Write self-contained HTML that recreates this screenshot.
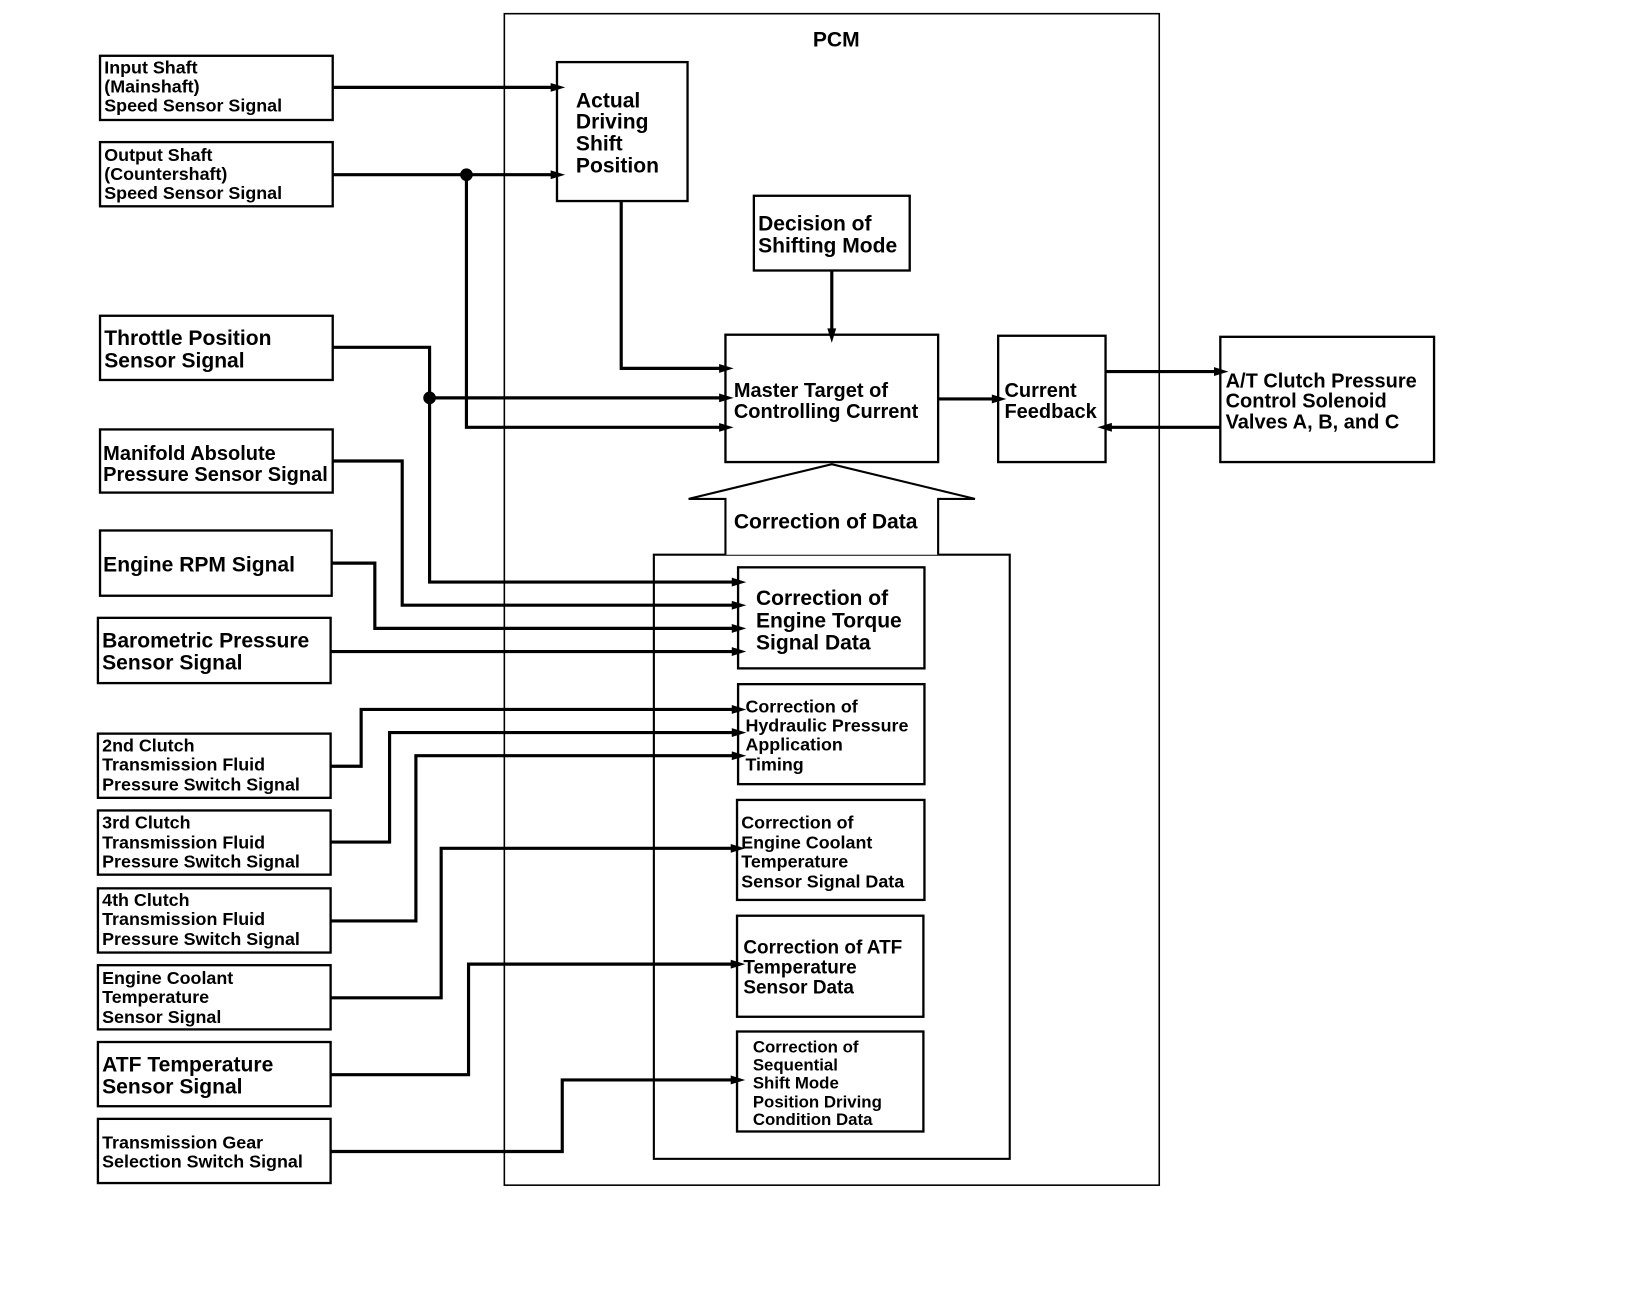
<!DOCTYPE html>
<html><head><meta charset="utf-8"><style>
html,body{margin:0;padding:0;background:#fff}
svg{display:block}
text{font-family:"Liberation Sans Narrow","Liberation Sans",sans-serif;font-weight:bold;fill:#000}
</style></head><body>
<svg width="1632" height="1302" viewBox="0 0 1550 1237" preserveAspectRatio="none" xmlns="http://www.w3.org/2000/svg">
<defs>
<marker id="a" viewBox="0 0 10 10" refX="10" refY="5" markerWidth="8" markerHeight="6" orient="auto" markerUnits="userSpaceOnUse" style="overflow:visible">
<path d="M0,0 L10,5 L0,10 z" transform="scale(2.3,1.4) translate(0,-1.4)" />
</marker>
</defs>
<style>
.b{fill:#fff;stroke:#000;stroke-width:2.2}
.l{fill:none;stroke:#000;stroke-width:3}
.s{font-size:17px}
.m{font-size:20px}
</style>
<!-- PCM -->
<rect x="479" y="13" width="622" height="1113" fill="none" stroke="#000" stroke-width="1.5"/>
<text x="772" y="44" class="m">PCM</text>
<!-- inner correction box -->
<rect x="621" y="527" width="338" height="574" fill="none" stroke="#000" stroke-width="2"/>
<!-- big arrow -->
<path d="M689,527 L689,474 L654,474 L790,441 L926,474 L891,474 L891,527" fill="#fff" stroke="#000" stroke-width="2"/>
<text x="697" y="502" class="m">Correction of Data</text>

<!-- input boxes -->
<rect class="b" x="95" y="53" width="221" height="61"/>
<text class="s"><tspan x="99" y="70">Input Shaft</tspan><tspan x="99" y="88">(Mainshaft)</tspan><tspan x="99" y="106">Speed Sensor Signal</tspan></text>
<rect class="b" x="95" y="135" width="221" height="61"/>
<text class="s"><tspan x="99" y="153">Output Shaft</tspan><tspan x="99" y="171">(Countershaft)</tspan><tspan x="99" y="189">Speed Sensor Signal</tspan></text>
<rect class="b" x="95" y="300" width="221" height="61"/>
<text class="m"><tspan x="99" y="328">Throttle Position</tspan><tspan x="99" y="349">Sensor Signal</tspan></text>
<rect class="b" x="95" y="408" width="221" height="60"/>
<text class="m" style="font-size:19px"><tspan x="98" y="437">Manifold Absolute</tspan><tspan x="98" y="457">Pressure Sensor Signal</tspan></text>
<rect class="b" x="95" y="504" width="220" height="62"/>
<text class="m" x="98" y="543">Engine RPM Signal</text>
<rect class="b" x="93" y="587" width="221" height="62"/>
<text class="m"><tspan x="97" y="615">Barometric Pressure</tspan><tspan x="97" y="636">Sensor Signal</tspan></text>
<rect class="b" x="93" y="697" width="221" height="61"/>
<text class="s"><tspan x="97" y="714">2nd Clutch</tspan><tspan x="97" y="732">Transmission Fluid</tspan><tspan x="97" y="751">Pressure Switch Signal</tspan></text>
<rect class="b" x="93" y="770" width="221" height="61"/>
<text class="s"><tspan x="97" y="787">3rd Clutch</tspan><tspan x="97" y="806">Transmission Fluid</tspan><tspan x="97" y="824">Pressure Switch Signal</tspan></text>
<rect class="b" x="93" y="844" width="221" height="61"/>
<text class="s"><tspan x="97" y="861">4th Clutch</tspan><tspan x="97" y="879">Transmission Fluid</tspan><tspan x="97" y="898">Pressure Switch Signal</tspan></text>
<rect class="b" x="93" y="917" width="221" height="61"/>
<text class="s"><tspan x="97" y="935">Engine Coolant</tspan><tspan x="97" y="953">Temperature</tspan><tspan x="97" y="972">Sensor Signal</tspan></text>
<rect class="b" x="93" y="990" width="221" height="61"/>
<text class="m"><tspan x="97" y="1018">ATF Temperature</tspan><tspan x="97" y="1039">Sensor Signal</tspan></text>
<rect class="b" x="93" y="1063" width="221" height="61"/>
<text class="s"><tspan x="97" y="1091">Transmission Gear</tspan><tspan x="97" y="1109">Selection Switch Signal</tspan></text>

<!-- PCM internal boxes -->
<rect class="b" x="529" y="59" width="124" height="132"/>
<text class="m"><tspan x="547" y="102">Actual</tspan><tspan x="547" y="122">Driving</tspan><tspan x="547" y="143">Shift</tspan><tspan x="547" y="164">Position</tspan></text>
<rect class="b" x="716" y="186" width="148" height="71"/>
<text class="m"><tspan x="720" y="219">Decision of</tspan><tspan x="720" y="240">Shifting Mode</tspan></text>
<rect class="b" x="689" y="318" width="202" height="121"/>
<text class="m" style="font-size:19px"><tspan x="697" y="377">Master Target of</tspan><tspan x="697" y="397">Controlling Current</tspan></text>
<rect class="b" x="948" y="319" width="102" height="120"/>
<text class="m" style="font-size:19px"><tspan x="954" y="377">Current</tspan><tspan x="954" y="397">Feedback</tspan></text>
<rect class="b" x="1159" y="320" width="203" height="119"/>
<text class="m" style="font-size:19px"><tspan x="1164" y="368">A/T Clutch Pressure</tspan><tspan x="1164" y="387">Control Solenoid</tspan><tspan x="1164" y="407">Valves A, B, and C</tspan></text>

<rect class="b" x="701" y="539" width="177" height="96"/>
<text class="m"><tspan x="718" y="575">Correction of</tspan><tspan x="718" y="596">Engine Torque</tspan><tspan x="718" y="617">Signal Data</tspan></text>
<rect class="b" x="701" y="650" width="177" height="95"/>
<text class="s"><tspan x="708" y="677">Correction of</tspan><tspan x="708" y="695">Hydraulic Pressure</tspan><tspan x="708" y="713">Application</tspan><tspan x="708" y="732">Timing</tspan></text>
<rect class="b" x="700" y="760" width="178" height="95"/>
<text class="s"><tspan x="704" y="787">Correction of</tspan><tspan x="704" y="806">Engine Coolant</tspan><tspan x="704" y="824">Temperature</tspan><tspan x="704" y="843">Sensor Signal Data</tspan></text>
<rect class="b" x="700" y="870" width="177" height="96"/>
<text class="s" style="font-size:18px"><tspan x="706" y="906">Correction of ATF</tspan><tspan x="706" y="925">Temperature</tspan><tspan x="706" y="944">Sensor Data</tspan></text>
<rect class="b" x="700" y="980" width="177" height="95"/>
<text class="s" style="font-size:16px"><tspan x="715" y="1000">Correction of</tspan><tspan x="715" y="1017">Sequential</tspan><tspan x="715" y="1034">Shift Mode</tspan><tspan x="715" y="1052">Position Driving</tspan><tspan x="715" y="1069">Condition Data</tspan></text>

<!-- connectors -->
<g class="l" marker-end="url(#a)">
<path d="M316,83 H529"/>
<path d="M316,166 H529"/>
<path d="M443,166 V406 H689"/>
<path d="M590,191 V350 H689"/>
<path d="M790,257 V318"/>
<path d="M316,330 H408 V553 H701"/>
<path d="M408,378 H689"/>
<path d="M891,379 H948"/>
<path d="M1050,353 H1159"/>
<path d="M1159,406 H1050"/>
<path d="M316,438 H382 V575 H701"/>
<path d="M315,535 H356 V597 H701"/>
<path d="M314,619 H701"/>
<path d="M314,728 H343 V674 H701"/>
<path d="M314,800 H370 V696 H701"/>
<path d="M314,875 H395 V718 H701"/>
<path d="M314,948 H419 V806 H700"/>
<path d="M314,1021 H445 V916 H700"/>
<path d="M314,1094 H534 V1026 H700"/>
</g>
<circle cx="443" cy="166" r="6" fill="#000"/>
<circle cx="408" cy="378" r="6" fill="#000"/>
</svg>
</body></html>
